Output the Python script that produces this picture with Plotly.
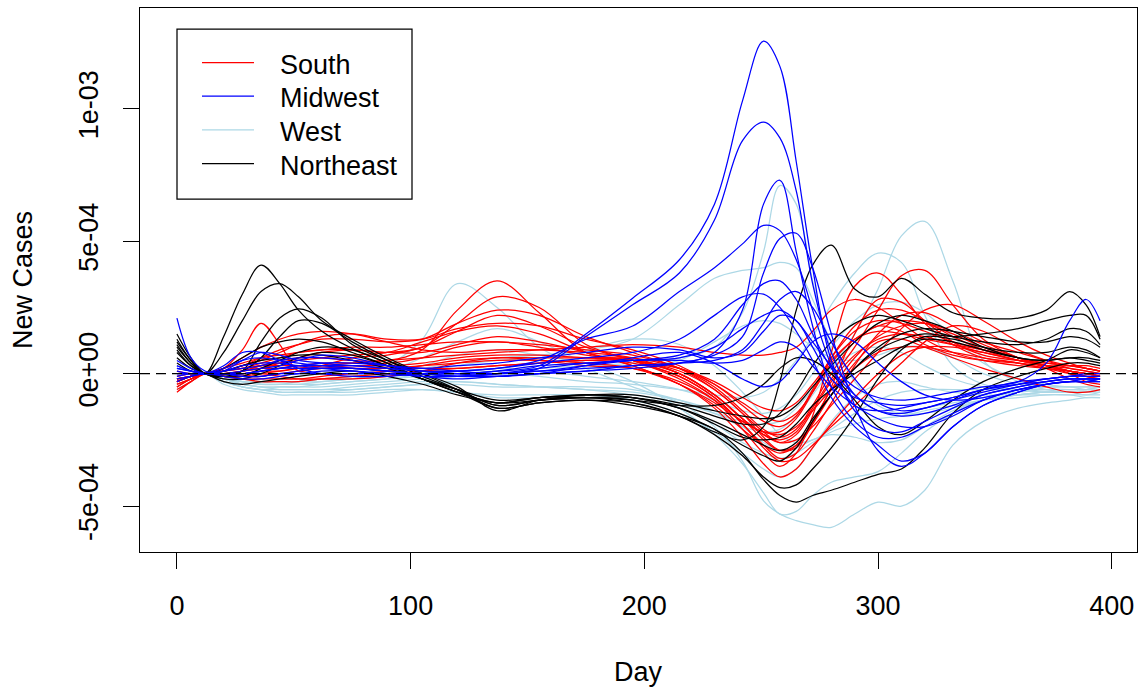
import plotly.graph_objects as go

# Day grid shared by every state curve
DAY = [0, 6, 12, 20, 28, 36, 44, 52, 62, 75,
       90, 105, 120, 137, 155, 175, 195, 215, 230, 242,
       251, 258, 265, 272, 280, 290, 300, 310, 320, 332,
       345, 360, 372, 382, 389, 395]
SCALE = 1e-4  # values below are in units of 1e-4

SOUTH = [
    [-0.3,-0.1,0.0,0.0,0.1,0.3,0.5,0.6,0.6,0.5, 0.5,0.9,2.4,3.5,2.3,0.8,0.5,0.0,-0.8,-1.7, -2.3,-2.5,-2.2,-1.3,-0.2,1.0,2.4,3.7,3.9,2.6, 1.3,0.6,0.3,0.2,0.1,0.0],
    [-0.5,-0.2,0.0,0.1,0.2,0.4,0.6,0.8,0.9,0.9, 0.8,1.0,1.9,2.9,2.5,1.1,0.5,-0.2,-1.0,-2.1, -3.0,-3.5,-3.0,-1.6,0.8,3.3,3.8,3.0,1.9,1.1, 0.6,0.4,0.2,0.1,0.0,-0.1],
    [-0.2,-0.1,0.0,0.1,0.3,0.6,0.9,1.1,1.3,1.3, 1.2,1.3,1.9,2.4,2.2,1.4,0.8,0.2,-0.6,-1.5, -2.4,-2.9,-2.8,-1.9,-0.5,1.5,2.8,2.7,2.0,1.2, 0.7,0.5,0.4,0.3,0.2,0.1],
    [-0.7,-0.3,0.0,0.2,0.9,1.9,1.1,0.1,0.3,0.6, 0.7,1.0,1.6,2.2,1.8,1.0,0.5,-0.1,-0.9,-1.9, -2.7,-3.2,-3.0,-2.2,-1.1,0.3,1.5,2.2,2.3,1.8, 1.2,0.8,0.5,0.3,0.2,0.1],
    [-0.4,-0.2,0.0,0.1,0.3,0.5,0.8,1.1,1.4,1.5, 1.3,1.3,1.7,1.9,1.8,1.3,0.9,0.3,-0.4,-1.2, -1.8,-2.0,-1.6,-0.6,0.6,1.6,2.0,1.9,1.6,1.2, 0.9,0.6,0.4,0.3,0.2,0.1],
    [-0.3,-0.1,0.0,0.0,0.1,0.2,0.4,0.6,0.8,0.9, 0.8,0.8,1.1,1.4,1.2,0.8,0.3,-0.4,-1.3,-2.4, -3.4,-3.9,-3.6,-2.8,-1.9,-0.9,0.0,0.7,1.0,1.0, 0.8,0.5,0.3,0.1,0.0,-0.1],
    [-0.2,-0.1,0.0,0.2,0.4,0.6,0.7,0.8,0.9,1.0, 1.0,1.1,1.2,1.2,1.1,0.9,0.7,0.2,-0.5,-1.4, -2.1,-2.4,-2.1,-1.2,0.0,1.2,1.8,1.6,1.1,0.7, 0.5,0.4,0.3,0.3,0.3,0.2],
    [0.1,0.0,0.0,0.0,-0.1,-0.1,0.0,0.1,0.2,0.3, 0.3,0.4,0.6,0.7,0.7,0.6,0.5,0.1,-0.6,-1.5, -2.2,-2.6,-2.5,-2.0,-1.2,-0.2,0.8,1.7,2.4,2.6, 2.0,1.2,0.7,0.4,0.2,0.1],
    [-0.3,-0.1,0.0,-0.1,-0.2,-0.2,-0.2,-0.2,-0.1,0.0, 0.1,0.3,0.5,0.6,0.6,0.6,0.6,0.2,-0.4,-1.1, -1.6,-1.8,-1.5,-0.7,0.4,1.3,1.6,1.5,1.3,1.1, 0.9,0.6,0.3,0.0,-0.3,-0.4],
    [-0.6,-0.3,0.0,-0.1,-0.2,-0.3,-0.3,-0.3,-0.2,-0.1, 0.0,0.1,0.2,0.3,0.4,0.5,0.5,0.0,-0.8,-1.7, -2.5,-2.9,-2.7,-1.9,-0.8,0.4,1.2,1.3,1.0,0.6, 0.2,-0.2,-0.5,-0.7,-0.7,-0.6],
    [-0.2,-0.1,0.0,0.0,0.0,0.1,0.1,0.2,0.3,0.4, 0.5,0.6,0.7,0.8,0.9,1.0,1.1,1.0,0.8,0.7, 0.7,0.8,1.0,1.6,2.4,2.8,2.5,1.9,1.3,0.8, 0.5,0.3,0.2,0.1,0.0,0.0],
    [-0.4,-0.2,0.0,-0.1,-0.1,0.0,0.1,0.2,0.2,0.2, 0.2,0.2,0.2,0.3,0.4,0.5,0.4,-0.1,-0.9,-1.9, -2.8,-3.3,-3.2,-2.7,-2.0,-1.2,-0.4,0.4,1.2,1.8, 1.6,0.9,0.5,0.2,0.1,0.0],
    [-0.3,-0.1,0.0,0.2,0.6,1.0,1.3,1.5,1.6,1.5, 1.2,0.9,0.8,0.9,0.9,0.8,0.6,0.0,-0.8,-1.7, -2.3,-2.6,-2.3,-1.4,-0.3,0.7,1.3,1.5,1.4,1.1, 0.8,0.5,0.3,0.1,0.0,-0.1],
    [-0.1,0.0,0.0,0.0,0.0,0.0,-0.1,-0.2,-0.2,-0.2, -0.1,0.1,0.4,0.6,0.5,0.3,0.2,-0.3,-1.0,-1.8, -2.2,-2.2,-1.7,-0.7,0.6,1.8,2.4,2.4,2.0,1.4, 0.9,0.5,0.3,0.1,-0.1,-0.2],
    [-0.5,-0.2,0.0,0.0,0.1,0.3,0.4,0.5,0.6,0.7, 0.8,1.2,1.6,1.8,1.5,0.8,0.3,-0.4,-1.2,-2.1, -2.7,-3.0,-2.7,-1.8,-0.6,0.6,1.4,1.8,1.9,1.6, 1.1,0.6,0.2,-0.2,-0.4,-0.5],
    [-0.2,-0.1,0.0,0.1,0.2,0.3,0.3,0.3,0.3,0.2, 0.2,0.3,0.4,0.5,0.5,0.4,0.2,-0.4,-1.1,-1.8, -2.2,-2.3,-2.0,-1.4,-0.6,0.2,0.8,1.0,1.0,0.8, 0.6,0.4,0.2,0.0,-0.1,-0.2],
    [-0.3,-0.1,0.0,0.0,0.1,0.2,0.2,0.3,0.4,0.4, 0.4,0.6,1.0,1.2,1.0,0.7,0.5,0.2,-0.3,-0.9, -1.3,-1.4,-1.1,-0.4,0.5,1.3,1.8,2.0,1.9,1.5, 1.0,0.6,0.3,0.1,0.0,-0.1],
]

MIDWEST = [
    [0.3,0.1,0.0,0.1,0.3,0.4,0.4,0.3,0.2,0.1, 0.0,0.0,0.0,0.1,0.3,1.5,2.85,4.3,6.4,10.3, 12.55,11.6,8.0,4.0,0.5,-1.2,-1.4,-1.3,-1.1,-0.9, -0.6,-0.3,-0.2,-0.1,-0.1,-0.1],
    [0.2,0.1,0.0,0.2,0.5,0.6,0.5,0.4,0.3,0.2, 0.1,0.0,-0.1,0.0,0.2,1.4,2.6,3.8,5.8,8.8, 9.5,8.9,6.9,3.4,0.8,-0.8,-1.4,-1.6,-1.5,-1.2, -0.8,-0.5,-0.3,-0.2,-0.2,-0.2],
    [-0.2,-0.1,0.0,0.0,-0.1,-0.1,0.0,0.0,0.1,0.1, 0.0,-0.1,-0.1,0.0,0.1,0.2,0.3,0.4,0.8,2.4, 6.4,7.3,4.6,1.8,-0.5,-1.8,-2.4,-2.4,-2.0,-1.5, -1.0,-0.6,-0.4,-0.3,-0.3,-0.2],
    [0.0,0.0,0.0,0.3,0.8,0.8,0.5,0.2,0.0,-0.1, -0.1,0.0,0.1,0.2,0.5,1.3,1.8,3.1,4.0,4.9, 5.6,5.4,4.3,2.4,0.3,-1.4,-2.1,-2.2,-1.8,-1.3, -0.8,-0.5,-0.3,-0.2,-0.2,-0.2],
    [-0.3,-0.1,0.0,-0.1,-0.2,-0.2,-0.1,0.0,0.0,0.0, 0.0,-0.1,-0.2,-0.1,0.0,0.1,0.2,0.4,0.7,1.4, 3.8,5.1,5.3,4.0,1.5,-1.2,-2.9,-3.5,-3.0,-2.0, -1.2,-0.7,-0.4,-0.3,-0.3,-0.3],
    [0.5,0.2,0.0,0.0,0.1,0.2,0.3,0.5,0.7,0.6, 0.3,0.1,0.0,0.1,0.3,0.4,0.5,0.7,1.3,2.6, 3.4,3.5,2.8,1.5,0.2,-0.8,-1.4,-1.5,-1.3,-1.0, -0.7,-0.4,-0.2,-0.1,0.0,0.0],
    [0.2,0.1,0.0,0.0,0.0,0.1,0.2,0.3,0.3,0.3, 0.2,0.1,0.1,0.2,0.4,0.6,0.8,1.3,2.2,2.9, 3.0,2.5,1.6,0.5,-0.9,-2.0,-2.7,-3.3,-3.0,-2.0, -1.2,-0.7,-0.4,-0.3,-0.3,-0.3],
    [0.1,0.0,0.0,0.1,0.2,0.3,0.5,0.6,0.6,0.5, 0.3,0.2,0.3,0.4,0.6,0.8,1.0,0.9,0.6,0.8, 1.6,2.2,2.0,1.0,-0.2,-0.9,-1.1,-1.2,-1.1,-0.9, -0.6,-0.4,-0.3,-0.2,-0.2,-0.2],
    [0.3,0.1,0.0,0.1,0.5,0.8,0.7,0.5,0.4,0.3, 0.2,0.1,0.0,-0.1,0.0,0.3,0.6,0.8,0.4,-0.2, -0.5,-0.3,0.4,1.2,1.5,1.2,0.4,-0.3,-0.8,-1.0, -0.9,-0.6,-0.4,-0.3,-0.2,-0.2],
    [2.1,0.6,0.1,0.0,0.0,0.1,0.2,0.3,0.4,0.4, 0.3,0.2,0.1,0.0,0.1,0.3,0.5,0.6,1.0,1.7, 2.2,2.4,2.0,1.2,0.3,-0.5,-0.9,-1.0,-0.9,-0.7, -0.5,-0.3,0.4,2.0,2.8,2.0],
    [-0.1,0.0,0.0,0.0,-0.1,-0.1,0.0,0.1,0.2,0.2, 0.1,0.0,-0.1,0.0,0.2,0.4,0.5,0.5,0.4,0.5, 0.9,1.2,1.0,0.3,-0.5,-1.2,-1.7,-2.0,-2.0,-1.6, -1.0,-0.6,-0.4,-0.3,-0.3,-0.2],
    [0.0,0.0,0.0,0.0,0.0,0.1,0.2,0.2,0.2,0.2, 0.1,0.0,-0.1,-0.1,0.0,0.1,0.3,0.4,0.5,0.9, 1.9,2.8,3.1,2.5,1.2,-0.2,-1.1,-1.4,-1.3,-1.0, -0.6,-0.4,-0.2,-0.1,-0.1,-0.1],
]

WEST = [
    [-0.3,-0.1,0.0,-0.2,-0.3,-0.4,-0.4,-0.3,-0.2,-0.1, 0.3,1.3,3.4,2.5,1.0,0.2,-0.5,-1.1,-2.0,-3.3, -4.8,-5.3,-5.55,-5.7,-5.8,-5.3,-4.85,-5.0,-4.4,-2.7, -1.8,-1.3,-1.1,-1.0,-0.9,-0.9],
    [-0.4,-0.2,0.0,-0.3,-0.5,-0.6,-0.6,-0.6,-0.6,-0.6, -0.5,-0.4,-0.4,-0.5,-0.5,-0.5,-0.6,-1.0,-1.5,-2.0, -2.2,-2.1,-1.6,-0.8,0.2,1.5,3.2,5.2,5.75,3.5, 0.5,-0.3,-0.6,-0.7,-0.7,-0.6],
    [-0.2,-0.1,0.0,-0.2,-0.4,-0.5,-0.5,-0.5,-0.5,-0.4, -0.3,-0.2,-0.1,0.0,-0.1,-0.3,-0.4,-0.6,-0.8,-0.9, -0.7,-0.2,0.5,1.4,2.6,3.8,4.55,4.2,2.2,0.3, -0.4,-0.6,-0.7,-0.7,-0.7,-0.6],
    [-0.5,-0.2,0.0,-0.2,-0.3,-0.4,-0.4,-0.4,-0.4,-0.3, -0.2,-0.1,0.0,0.1,0.2,0.3,0.4,0.6,1.0,2.3, 4.6,7.1,6.4,3.5,0.9,-0.8,-1.4,-1.5,-1.3,-1.1, -0.9,-0.7,-0.6,-0.6,-0.6,-0.5],
    [-0.3,-0.1,0.0,-0.1,-0.2,-0.3,-0.3,-0.3,-0.2,-0.1, 0.0,0.2,0.4,0.6,0.7,0.9,1.3,2.6,3.6,3.9, 4.0,4.2,4.0,2.8,1.2,-0.3,-1.2,-1.5,-1.5,-1.3, -1.0,-0.8,-0.7,-0.7,-0.7,-0.6],
    [-0.1,0.0,0.0,-0.1,-0.2,-0.3,-0.3,-0.3,-0.2,-0.1, 0.1,0.6,1.2,1.7,1.2,0.4,-0.3,-1.3,-2.3,-3.4, -4.5,-5.3,-5.2,-4.6,-4.1,-3.9,-3.7,-3.0,-2.2,-1.5, -1.0,-0.8,-0.7,-0.7,-0.8,-0.7],
    [-0.6,-0.3,0.0,-0.4,-0.6,-0.7,-0.8,-0.8,-0.8,-0.8, -0.7,-0.6,-0.7,-0.9,-0.9,-0.8,-0.9,-1.3,-1.9,-2.6, -3.0,-3.2,-3.0,-2.6,-2.2,-1.9,-1.7,-1.6,-1.4,-1.2, -1.0,-0.9,-0.8,-0.8,-0.8,-0.8],
    [-0.4,-0.2,0.0,-0.3,-0.5,-0.6,-0.7,-0.7,-0.7,-0.6, -0.5,-0.4,-0.3,-0.4,-0.5,-0.6,-0.8,-1.1,-1.5,-1.8, -1.9,-1.8,-1.3,-0.6,0.2,0.8,1.0,0.8,0.3,-0.2, -0.5,-0.6,-0.6,-0.6,-0.6,-0.5],
    [-0.2,-0.1,0.0,-0.1,-0.3,-0.4,-0.4,-0.4,-0.3,-0.2, 0.0,0.3,0.7,0.9,0.7,0.4,0.3,0.5,1.2,1.8, 2.0,1.9,1.5,1.0,0.6,0.5,0.7,1.0,1.0,0.6, 0.0,-0.4,-0.5,-0.5,-0.5,-0.5],
    [-0.3,-0.1,0.0,-0.2,-0.4,-0.5,-0.5,-0.5,-0.4,-0.3, -0.2,0.0,0.3,0.5,0.6,0.9,1.3,1.1,0.3,-0.7, -1.6,-2.3,-2.6,-2.5,-2.1,-1.5,-1.0,-0.7,-0.6,-0.6, -0.6,-0.6,-0.5,-0.5,-0.6,-0.6],
    [-0.5,-0.2,0.0,-0.3,-0.5,-0.6,-0.7,-0.7,-0.7,-0.7, -0.6,-0.6,-0.7,-0.8,-0.8,-0.8,-1.0,-1.5,-2.2,-3.0, -3.6,-3.9,-3.6,-2.8,-1.8,-0.9,-0.4,-0.3,-0.5,-0.7, -0.8,-0.8,-0.8,-0.8,-0.9,-0.9],
    [-0.2,-0.1,0.0,-0.2,-0.3,-0.3,-0.3,-0.3,-0.3,-0.2, -0.1,0.0,0.1,0.2,0.1,-0.1,-0.3,-0.6,-1.0,-1.4, -1.5,-1.3,-0.8,0.0,1.0,2.0,2.6,2.7,2.3,1.4, 0.4,-0.2,-0.4,-0.5,-0.5,-0.5],
    [-0.3,-0.1,0.0,-0.2,-0.4,-0.5,-0.6,-0.6,-0.6,-0.5, -0.4,-0.3,-0.3,-0.4,-0.5,-0.6,-0.7,-1.0,-1.4,-2.0, -2.6,-2.9,-2.8,-2.5,-2.3,-2.4,-2.6,-2.5,-2.0,-1.4, -1.0,-0.8,-0.7,-0.7,-0.7,-0.7],
]

NORTHEAST = [
    [1.3,0.5,0.0,1.4,3.0,4.1,3.4,2.4,1.6,0.95, 0.4,-0.2,-0.7,-1.1,-0.9,-0.9,-1.0,-1.5,-2.1,-2.7, -3.1,-3.3,-2.8,-1.8,-0.8,0.2,1.0,1.5,1.7,1.6, 1.4,1.2,1.2,1.4,1.3,1.0],
    [1.0,0.4,0.0,0.8,2.0,3.1,3.4,2.9,2.0,1.3, 0.6,0.0,-0.6,-1.3,-1.1,-1.0,-1.2,-1.6,-2.1,-3.0, -4.0,-4.6,-4.85,-4.6,-4.4,-4.1,-3.8,-3.6,-2.8,-1.5, -0.6,-0.1,0.2,0.4,0.4,0.3],
    [1.5,0.6,0.0,-0.1,0.1,1.2,2.1,2.45,2.1,1.1, 0.5,0.0,-0.5,-1.4,-1.0,-0.9,-1.1,-1.6,-2.2,-2.5, -2.0,-0.3,2.4,4.1,4.85,3.2,2.9,3.6,3.0,2.3, 2.1,2.1,2.4,3.1,2.6,1.4],
    [1.1,0.4,0.0,0.0,0.1,0.6,1.4,2.0,1.9,1.2, 0.5,-0.1,-0.6,-1.2,-1.0,-0.8,-0.9,-1.3,-1.8,-2.3, -2.7,-2.9,-2.6,-1.7,-0.8,0.2,0.9,1.3,1.5,1.4, 1.5,1.7,2.0,2.2,2.2,1.3],
    [0.8,0.3,0.0,-0.2,-0.2,0.0,0.3,0.6,0.8,0.7, 0.3,-0.2,-0.7,-1.3,-1.1,-1.0,-1.1,-1.6,-2.3,-3.1, -3.9,-4.3,-4.2,-3.6,-2.8,-1.6,-0.2,0.9,1.4,1.3, 1.0,0.8,0.8,1.0,0.9,0.6],
    [0.6,0.2,0.0,-0.1,-0.1,0.2,0.5,0.8,1.0,0.9, 0.4,-0.2,-0.6,-1.0,-0.9,-0.8,-0.8,-1.1,-1.4,-1.6, -1.7,-1.6,-1.2,-0.5,0.3,1.2,1.9,2.2,2.0,1.6, 1.0,0.6,0.5,0.6,0.6,0.5],
    [0.4,0.1,0.0,-0.3,-0.4,-0.3,-0.2,-0.1,0.0,0.1, -0.1,-0.4,-0.8,-1.1,-0.9,-0.8,-0.9,-1.3,-1.9,-2.4, -2.5,-2.4,-1.9,-1.2,-0.6,0.0,0.5,1.0,1.3,1.2, 0.9,0.6,0.5,0.6,0.5,0.4],
    [0.9,0.3,0.0,0.1,0.3,0.5,0.6,0.7,0.7,0.5, 0.2,-0.2,-0.6,-1.2,-1.0,-0.9,-1.0,-1.2,-1.2,-0.9, -0.4,0.2,0.6,0.5,0.0,-1.0,-2.0,-2.3,-1.8,-1.0, -0.3,0.2,0.5,0.9,0.8,0.6],
    [1.2,0.5,0.0,0.2,0.6,1.0,1.2,1.3,1.2,0.8, 0.3,-0.2,-0.7,-1.1,-1.0,-0.9,-0.9,-1.2,-1.6,-1.9, -1.9,-1.5,-0.7,0.3,1.2,1.9,2.2,2.0,1.7,1.4, 1.2,1.1,1.3,1.7,1.6,1.1],
]

REGION_NAMES = ["South", "Midwest", "West", "Northeast"]
REGION_COLORS = ["#FF0000", "#0000FF", "#ADD8E6", "#000000"]
X_TICKS = [0, 100, 200, 300, 400]
Y_TICKS = [-5e-4, 0.0, 5e-4, 1e-3]
Y_TICK_TEXT = ["-5e-04", "0e+00", "5e-04", "1e-03"]

for grp in (SOUTH, MIDWEST, WEST, NORTHEAST):
    for s in grp:
        assert len(s) == len(DAY), len(s)

FONT = "Liberation Sans, Arial, sans-serif"
FS = 27
W, H = 1138, 689
ML, MR, MT, MB = 140, 1, 8, 137
PW, PH = W - ML - MR, H - MT - MB


def px(xp):
    return (xp - ML) / PW


def py(yp):
    return (H - MB - yp) / PH


color_of = dict(zip(REGION_NAMES, REGION_COLORS))
fig = go.Figure()
for name, group in [("West", WEST), ("South", SOUTH), ("Northeast", NORTHEAST), ("Midwest", MIDWEST)]:
    for vals in group:
        fig.add_trace(go.Scatter(
            x=DAY, y=[v * SCALE for v in vals], mode="lines",
            line=dict(color=color_of[name], width=1.25, shape="spline", smoothing=1.0),
            showlegend=False, hoverinfo="skip"))

shapes = [
    dict(type="line", xref="paper", yref="y", x0=0, x1=1, y0=0, y1=0,
         line=dict(color="black", width=1.25, dash="10px,6px"), layer="above"),
    dict(type="rect", xref="paper", yref="paper", x0=px(177), x1=px(412), y0=py(29), y1=py(199),
         line=dict(color="black", width=1.25), fillcolor="white", layer="above"),
]
annotations = []
for i, name in enumerate(REGION_NAMES):
    yy = 62.5 + i * 33.7
    shapes.append(dict(type="line", xref="paper", yref="paper", x0=px(202), x1=px(254), y0=py(yy), y1=py(yy),
                       line=dict(color=color_of[name], width=1.25), layer="above"))
    annotations.append(dict(text=name, xref="paper", yref="paper", x=px(278), y=py(yy + 2),
                            xanchor="left", yanchor="middle", showarrow=False,
                            font=dict(family=FONT, size=FS, color="black")))

annotations.append(dict(text="Day", xref="paper", yref="paper", x=px(638.5), y=py(672),
                        xanchor="center", yanchor="middle", showarrow=False,
                        font=dict(family=FONT, size=FS, color="black")))
annotations.append(dict(text="New Cases", xref="paper", yref="paper", x=px(23), y=py(280),
                        xanchor="center", yanchor="middle", showarrow=False, textangle=-90,
                        font=dict(family=FONT, size=FS, color="black")))

fig.update_layout(
    width=W, height=H,
    margin=dict(l=ML, r=MR, t=MT, b=MB, pad=0),
    paper_bgcolor="white", plot_bgcolor="white",
    font=dict(family=FONT, size=FS, color="black"),
    shapes=shapes, annotations=annotations, showlegend=False,
    xaxis=dict(range=[-15.8, 410.8], tickvals=X_TICKS, ticks="outside", ticklen=16,
               tickcolor="black", tickwidth=1.25, showgrid=False, zeroline=False,
               showline=True, mirror=True, linecolor="black", linewidth=1.25,
               ticklabelstandoff=13, tickfont=dict(family=FONT, size=FS, color="black")),
    yaxis=dict(range=[-6.732e-4, 1.3804e-3], tickvals=Y_TICKS, ticktext=Y_TICK_TEXT,
               ticks="outside", ticklen=16, tickcolor="black", tickwidth=1.25, tickangle=-90,
               showgrid=False, zeroline=False, showline=True, mirror=True,
               linecolor="black", linewidth=1.25, ticklabelstandoff=14,
               tickfont=dict(family=FONT, size=FS, color="black")),
)

fig.write_html("out.html")
